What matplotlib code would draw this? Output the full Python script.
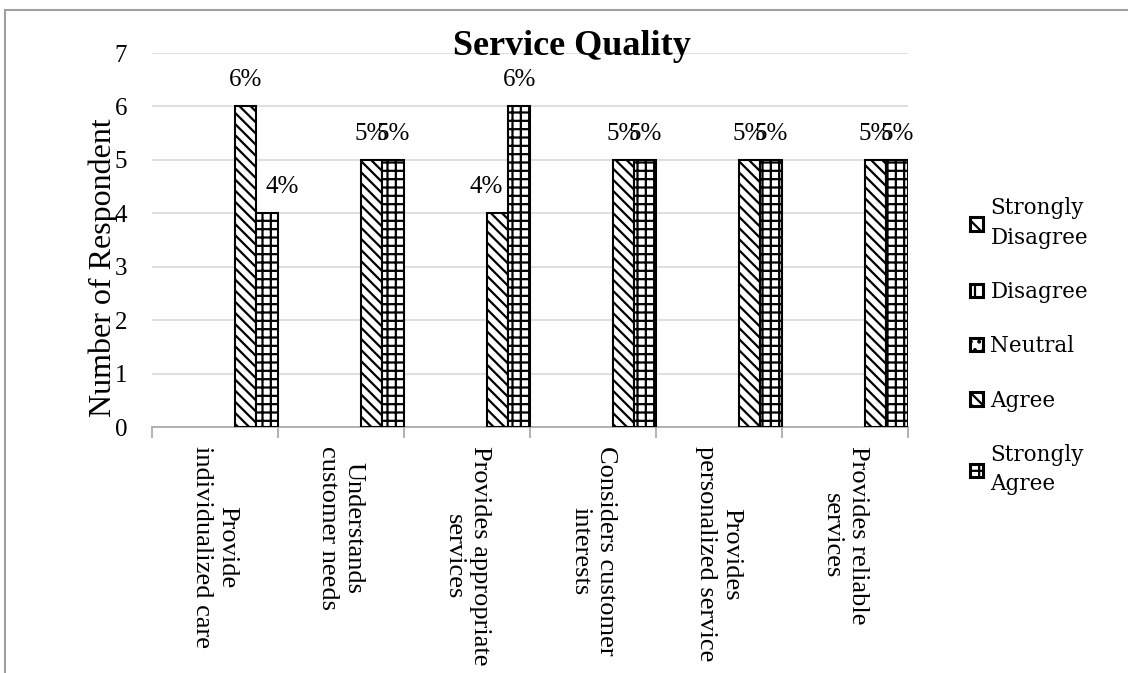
import matplotlib.pyplot as plt
import numpy as np
from matplotlib.patches import Patch, Rectangle

# data
categories = [
    "Provide\nindividualized care",
    "Understands\ncustomer needs",
    "Provides appropriate\nservices",
    "Considers customer\ninterests",
    "Provides\npersonalized service",
    "Provides reliable\nservices",
]
series = ["Strongly\nDisagree", "Disagree", "Neutral", "Agree", "Strongly\nAgree"]
strongly_disagree = [0, 0, 0, 0, 0, 0]
disagree = [0, 0, 0, 0, 0, 0]
neutral = [0, 0, 0, 0, 0, 0]
agree = [6, 5, 4, 5, 5, 5]
strongly_agree = [4, 5, 6, 5, 5, 5]
yticks = [0, 1, 2, 3, 4, 5, 6, 7]

values = [strongly_disagree, disagree, neutral, agree, strongly_agree]
hatches = ["\\\\", "|", "..", "\\\\\\", "++"]

plt.rcParams["hatch.linewidth"] = 1.6
serif = ["Liberation Serif", "DejaVu Serif"]

fig = plt.figure(figsize=(11.28, 6.73), dpi=100)
ax = fig.add_axes([152 / 1128, 1 - 427 / 673, 756 / 1128, 374 / 673])

x = np.arange(len(categories))
w = 0.172
all_labels = []
for k, (vals, h) in enumerate(zip(values, hatches)):
    b = ax.bar(x + 1 - (5 - k) * w, vals, w, align="edge",
               facecolor="white", edgecolor="black", linewidth=1.5, hatch=h,
               zorder=3)
    for p in b.patches:
        if p.get_height() == 0:
            p.set_visible(False)
    labels = [f"{v}%" if v > 0 else "" for v in vals]
    all_labels.append(ax.bar_label(b, labels=labels, padding=11, fontsize=18,
                                   family=serif))

# the shorter bar's label sits off to the side, away from its taller neighbour
for i in range(len(categories)):
    if agree[i] < strongly_agree[i]:
        all_labels[3][i].xyann = (-8, 11)
    elif agree[i] > strongly_agree[i]:
        all_labels[4][i].xyann = (11, 11)

ax.set_xlim(0, len(categories))
ax.set_ylim(0, 7)
ax.set_yticks(yticks)
ax.set_yticklabels([str(t) for t in yticks], family=serif, fontsize=18)
ax.tick_params(axis="y", length=0, pad=18)

ax.set_xticks(x + 0.5)
ax.set_xticklabels(categories, rotation=270, va="top", ha="center",
                   multialignment="center", family=serif, fontsize=19)
ax.set_xticks(np.arange(len(categories) + 1), minor=True)
ax.tick_params(axis="x", which="major", length=0, pad=14)
ax.tick_params(axis="x", which="minor", length=8, color="#a6a6a6", width=1.2)

ax.grid(axis="y", color="#d9d9d9", linewidth=1.2, zorder=0)
for s in ["top", "right", "left"]:
    ax.spines[s].set_visible(False)
ax.spines["bottom"].set_color("#a6a6a6")
ax.spines["bottom"].set_linewidth(1.2)

fig.text(572 / 1128, 1 - 55 / 673, "Service Quality", ha="center",
         va="baseline", fontsize=26, fontweight="bold", family=serif)
fig.text(103 / 1128, 1 - 268 / 673, "Number of Respondent", rotation=90,
         ha="center", va="center", fontsize=23, family=serif)

handles = [Patch(facecolor="white", edgecolor="black", linewidth=2.2, hatch=h)
           for h in hatches]
leg = fig.legend(handles=handles, labels=series, loc="upper left",
                 bbox_to_anchor=(970 / 1128, 1 - 197 / 673), frameon=False,
                 borderpad=0, borderaxespad=0, handlelength=0.6,
                 handleheight=0.6, handletextpad=0.35, labelspacing=1.5,
                 prop={"family": "DejaVu Serif", "size": 15.5})
for t in leg.get_texts():
    t.set_linespacing(1.45)

fig.patches.append(Rectangle((5 / 1128, -0.1), 1.2, 1.1 - 10 / 673,
                             transform=fig.transFigure, fill=False,
                             edgecolor="#a0a0a0", linewidth=1.5))

fig.savefig("out.png", dpi=100)
